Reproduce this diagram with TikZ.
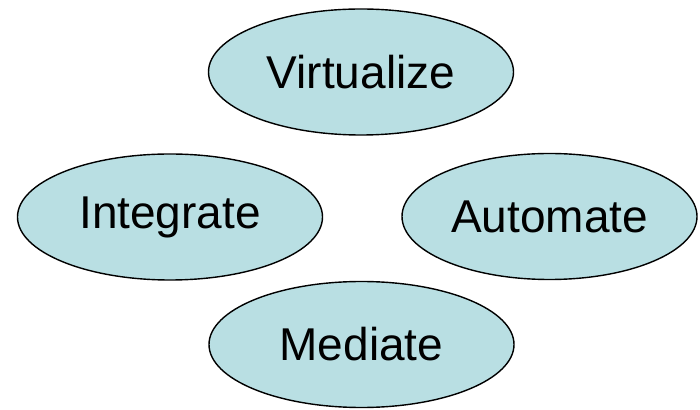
\documentclass[tikz,border=0pt]{standalone}
\usepackage{fontspec}
\setmainfont{Liberation Sans}
\usepackage{tikz}
\usetikzlibrary{shapes.geometric}

\definecolor{bubble}{RGB}{185,223,227}

\begin{document}
\begin{tikzpicture}[x=1pt,y=1pt,
    goal/.style={ellipse,draw=black,line width=1.4pt,fill=bubble,text=black,
      inner sep=0pt,minimum width=305pt,minimum height=126pt,
      font=\fontsize{46}{50}\selectfont}]
  \useasboundingbox (0,0) rectangle (700,409);
  \node[goal] (virtualize) at (361,337) {Virtualize};
  \node[goal] (integrate)  at (170,192) {Integrate};
  \node[goal,minimum width=295pt] (automate) at (549.5,192.5) {Automate};
  \node[goal] (mediate)    at (361.5,64.5) {Mediate};
\end{tikzpicture}
\end{document}
